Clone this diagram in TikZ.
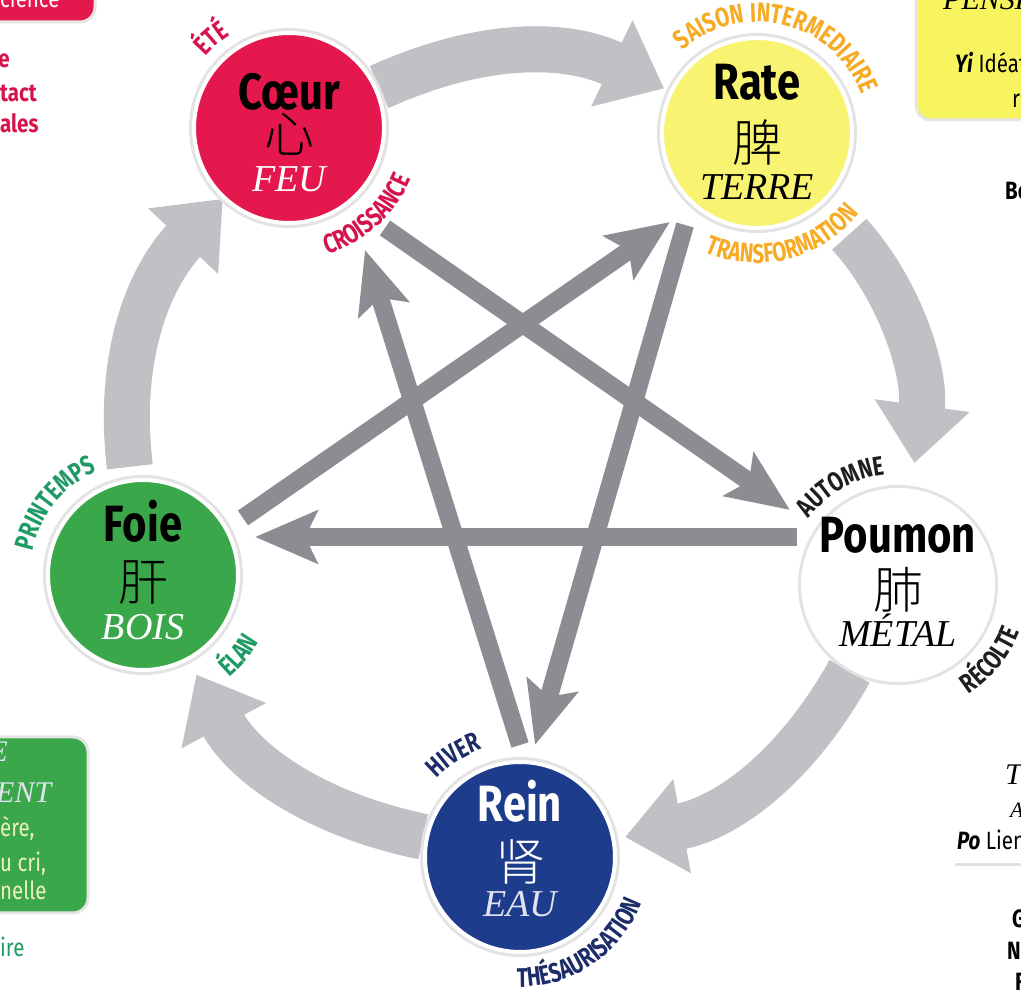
\documentclass[tikz,border=0pt]{standalone}
\usepackage{fontspec}
\setmainfont{Liberation Serif}
\newfontfamily\condfont[FakeStretch=0.82]{Fira Sans}
\newfontfamily\narrowfont[FakeStretch=0.76]{Fira Sans}
\IfFontExistsTF{Noto Sans CJK SC Light}
  {\newfontfamily\cjkfont{Noto Sans CJK SC Light}}
  {\newfontfamily\cjkfont{Noto Sans CJK SC}}
\usetikzlibrary{arrows.meta,decorations.text,backgrounds}

\definecolor{fire}{RGB}{228,24,76}
\definecolor{firelabel}{RGB}{214,20,75}
\definecolor{earth}{RGB}{248,243,112}
\definecolor{earthbox}{RGB}{248,244,95}
\definecolor{earthlabel}{RGB}{247,170,35}
\definecolor{wood}{RGB}{58,168,74}
\definecolor{woodlabel}{RGB}{30,155,100}
\definecolor{water}{RGB}{30,60,140}
\definecolor{waterlabel}{RGB}{28,45,105}
\definecolor{waterelem}{RGB}{225,228,240}
\definecolor{metallabel}{RGB}{30,30,30}
\definecolor{cyclegray}{RGB}{192,192,197}
\definecolor{kegray}{RGB}{140,140,146}
\definecolor{boxtext}{RGB}{238,240,190}

\newcommand{\namefont}{\condfont\bfseries\fontsize{51}{51}\selectfont}
\newcommand{\hanfont}{\cjkfont\fontsize{50}{50}\selectfont}
\newcommand{\elemfont}{\itshape\fontsize{38}{38}\selectfont}
\newcommand{\seasonfont}{\narrowfont\bfseries\fontsize{27}{27}\selectfont}
\newcommand{\sidefont}{\condfont\fontsize{25}{25}\selectfont}

\begin{document}
\begin{tikzpicture}[x=1pt, y=1pt,
    organ/.style={circle, minimum size=190pt, inner sep=0pt, line width=4pt, draw=white,
                  preaction={draw=black!11, line width=10pt}},
    orgname/.style={anchor=base, inner sep=0pt, font=\namefont},
    orghan/.style={inner sep=0pt, font=\hanfont},
    orgelem/.style={anchor=base, inner sep=0pt, font=\elemfont},
    season/.style={decorate, decoration={text along path, text align=center, text={#1}}},
    cycle arrow/.style={draw=cyclegray, line width=46pt, -{Triangle[length=58pt, width=92pt]}},
    ke arrow/.style={draw=kegray, line width=18pt, -{Stealth[length=62pt, width=52pt, inset=12pt]}},
    sidebox/.style={rounded corners=15pt, draw=black!10, line width=3pt},
    side/.style={inner sep=0pt, font=\sidefont}
]
    \useasboundingbox (0,0) rectangle (1021,993);
    \clip (0,0) rectangle (1021,993);

    % The five organs
    \node[organ, fill=fire] (coeur) at (289,865) {};
    \node[organ, fill=earth] (rate) at (757,860) {};
    \node[organ, fill=white] (poumon) at (898,408) {};
    \node[organ, fill=wood] (foie) at (143,418) {};
    \node[organ, fill=water] (rein) at (520,136) {};

    \node[orgname] (coeur-name) at ([yshift=18]coeur) {Cœur};
    \node[orghan] (coeur-han) at ([yshift=-6]coeur) {心};
    \node[orgelem, text=white] (coeur-elem) at ([yshift=-64]coeur) {FEU};

    \node[orgname] (rate-name) at ([yshift=33]rate) {Rate};
    \node[orghan] (rate-han) at ([yshift=-9]rate) {脾};
    \node[orgelem] (rate-elem) at ([yshift=-67]rate) {TERRE};

    \node[orgname] (poumon-name) at ([yshift=32]poumon) {Poumon};
    \node[orghan] (poumon-han) at ([yshift=-5]poumon) {肺};
    \node[orgelem] (poumon-elem) at ([yshift=-62]poumon) {MÉTAL};

    \node[orgname] (foie-name) at ([yshift=33]foie) {Foie};
    \node[orghan] (foie-han) at ([yshift=-7]foie) {肝};
    \node[orgelem, text=white] (foie-elem) at ([yshift=-65]foie) {BOIS};

    \node[orgname, text=white] (rein-name) at ([yshift=35]rein) {Rein};
    \node[orghan, text=white] (rein-han) at ([yshift=-5]rein) {肾};
    \node[orgelem, text=waterelem] (rein-elem) at ([yshift=-60]rein) {EAU};

    % Seasons and phases round the circles
    \path[season={|\seasonfont\color{firelabel}|ÉTÉ}] ([shift={(221:110)}]coeur) arc[start angle=221, end angle=41, radius=110];
    \path[season={|\seasonfont\color{firelabel}|CROISSANCE}] ([shift={(-138:132)}]coeur) arc[start angle=-138, end angle=42, radius=132];
    \path[season={|\seasonfont\color{earthlabel}|SAISON INTERMEDIAIRE}] ([shift={(166:111)}]rate) arc[start angle=166, end angle=-14, radius=111];
    \path[season={|\seasonfont\color{earthlabel}|TRANSFORMATION}] ([shift={(-166:130)}]rate) arc[start angle=-166, end angle=14, radius=130];
    \path[season={|\seasonfont\color{metallabel}|AUTOMNE}] ([shift={(210:111)}]poumon) arc[start angle=210, end angle=30, radius=111];
    \path[season={|\seasonfont\color{metallabel}|RÉCOLTE}] ([shift={(-129:130)}]poumon) arc[start angle=-129, end angle=51, radius=130];
    \path[season={|\seasonfont\color{woodlabel}|PRINTEMPS}] ([shift={(231:113)}]foie) arc[start angle=231, end angle=51, radius=113];
    \path[season={|\seasonfont\color{woodlabel}|ÉLAN}] ([shift={(-130:134)}]foie) arc[start angle=-130, end angle=50, radius=134];
    \path[season={|\seasonfont\color{waterlabel}|HIVER}] ([shift={(213:114)}]rein) arc[start angle=213, end angle=33, radius=114];
    \path[season={|\seasonfont\color{waterlabel}|THÉSAURISATION}] ([shift={(-146:130)}]rein) arc[start angle=-146, end angle=34, radius=130];

    % End points of the star arrows
    \coordinate (cp-s) at (385,765);  \coordinate (cp-e) at (790,483);
    \coordinate (pf-s) at (797,456);  \coordinate (pf-e) at (255,456);
    \coordinate (fr-s) at (243,475);  \coordinate (fr-e) at (670,771);
    \coordinate (rr-s) at (685,768);  \coordinate (rr-e) at (535,248);
    \coordinate (rc-s) at (520,248);  \coordinate (rc-e) at (365,743);

    \begin{scope}[on background layer]
        \fill[white] (0,0) rectangle (1021,993);
        % Generating cycle
        \draw[cycle arrow, shorten <=2pt, shorten >=6pt] (coeur) to[bend left=25] (rate);
        \draw[cycle arrow, shorten <=40pt, shorten >=26pt] (rate) to[bend left=25] (poumon);
        \draw[cycle arrow, shorten <=2pt, shorten >=10pt] (poumon) to[bend left=25] (rein);
        \draw[cycle arrow, shorten <=2pt, shorten >=16pt] (rein) to[bend left=25] (foie);
        \draw[cycle arrow, shorten <=12pt, shorten >=0pt] (foie) to[bend left=25] (coeur);
        % Control cycle
        \draw[ke arrow] (cp-s) -- (cp-e);
        \draw[ke arrow] (pf-s) -- (pf-e);
        \draw[ke arrow] (fr-s) -- (fr-e);
        \draw[ke arrow] (rr-s) -- (rr-e);
        \draw[ke arrow] (rc-s) -- (rc-e);
    \end{scope}

    % Cut-off neighbours at the edges
    \filldraw[sidebox, fill=fire] (-40,971) rectangle (95,1040);
    \node[side, anchor=base west, text=white] (tl-box) at (0,985) {cience};
    \node[side, anchor=base east, text=firelabel, font=\sidefont\bfseries] (tl-1) at (10,925) {e};
    \node[side, anchor=base west, text=firelabel, font=\sidefont\bfseries] (tl-2) at (0,891) {tact};
    \node[side, anchor=base west, text=firelabel, font=\sidefont\bfseries] (tl-3) at (0,860) {ales};

    \filldraw[sidebox, fill=earthbox] (916,873) rectangle (1060,1040);
    \node[side, anchor=base west, font=\itshape\fontsize{30}{30}\selectfont] (tr-1) at (943,983) {PENSE};
    \node[side, anchor=base west] (tr-2) at (955,920) {\textbf{\textit{Yi}} Idéat};
    \node[side, anchor=base west] (tr-3) at (1012,885) {r};
    \node[side, anchor=base west, font=\sidefont\bfseries] (tr-4) at (1005,793) {Bo};

    \filldraw[sidebox, fill=wood] (-40,80) rectangle (88,256);
    \node[side, anchor=base east, text=waterelem, font=\itshape\fontsize{30}{30}\selectfont] (bl-1) at (8,231) {E};
    \node[side, anchor=base west, text=waterelem, font=\itshape\fontsize{30}{30}\selectfont] (bl-2) at (-4,190) {ENT};
    \node[side, anchor=base west, text=boxtext] (bl-3) at (0,156) {ère,};
    \node[side, anchor=base west, text=boxtext] (bl-4) at (0,121) {u cri,};
    \node[side, anchor=base west, text=boxtext] (bl-5) at (0,93) {nelle};
    \node[side, anchor=base west, text=woodlabel] (bl-6) at (0,36) {ire};

    \node[side, anchor=base west, font=\itshape\fontsize{30}{30}\selectfont] (br-1) at (1005,208) {T};
    \node[side, anchor=base west, font=\itshape\fontsize{22}{22}\selectfont] (br-2) at (1010,175) {A};
    \node[side, anchor=base west] (br-3) at (957,143) {\textbf{\textit{Po}} Lien};
    \draw[black!12, line width=3pt] (955,128) -- (1030,128);
    \node[side, anchor=base west, font=\sidefont\bfseries] (br-4) at (1012,65) {G};
    \node[side, anchor=base west, font=\sidefont\bfseries] (br-5) at (1007,33) {N};
    \node[side, anchor=base west, font=\sidefont\bfseries] (br-6) at (1015,2) {F};
\end{tikzpicture}
\end{document}
